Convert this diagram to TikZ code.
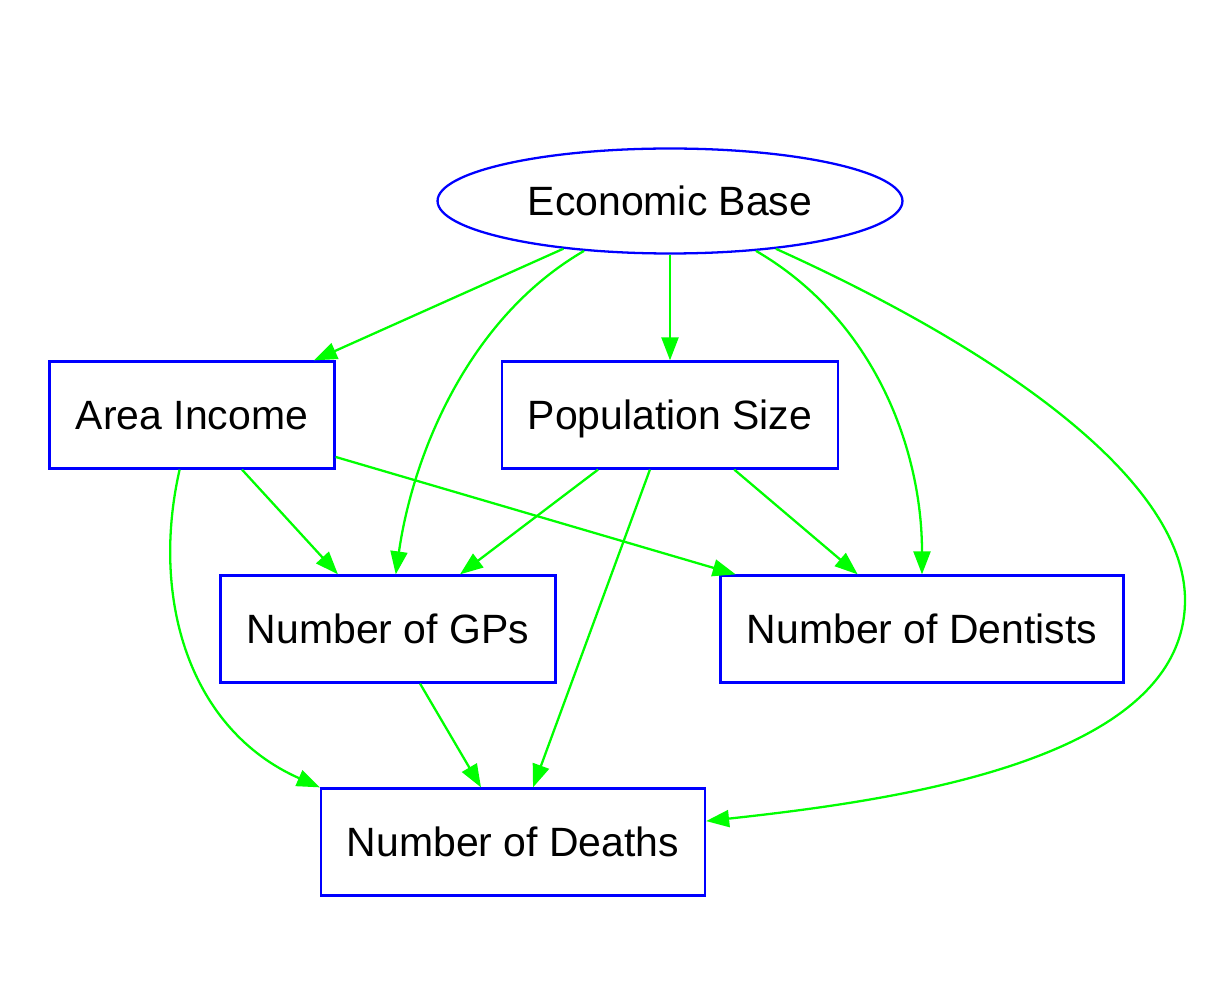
\documentclass[tikz,border=0pt]{standalone}
\usepackage{fontspec}
\setmainfont{Liberation Sans}
\usetikzlibrary{shapes.geometric,arrows.meta}
\definecolor{edgegreen}{RGB}{0,255,0}
\definecolor{nodeblue}{RGB}{0,0,255}
\begin{document}
\begin{tikzpicture}[x=0.02cm,y=-0.02cm,
  box/.style={draw=nodeblue,line width=1.3pt,rectangle,inner sep=0pt,minimum height=2.14cm,text height=16.7pt,text depth=0pt,font=\fontsize{23.3}{28}\selectfont},
  oval/.style={draw=nodeblue,line width=1.3pt,ellipse,inner sep=0pt,minimum width=9.3cm,minimum height=2.1cm,text height=16.7pt,text depth=0pt,font=\fontsize{23.3}{28}\selectfont},
  edge/.style={draw=edgegreen,line width=1.3pt,-{Triangle[length=0.46cm,width=0.34cm]}}]
\useasboundingbox (0,0) rectangle (1230,996);
\node[oval] (eb) at (670,201) {Economic Base};
\node[box,minimum width=5.7cm] (ai) at (192,415) {Area Income};
\node[box,minimum width=6.72cm] (pop) at (670,415) {Population Size};
\node[box,minimum width=6.7cm] (gp) at (388,629) {Number of GPs};
\node[box,minimum width=8.06cm] (den) at (922,629) {Number of Dentists};
\node[box,minimum width=7.68cm] (dea) at (513,842) {Number of Deaths};
\draw[edge] (eb) -- (ai);
\draw[edge] (eb) -- (pop);
\draw[edge] (eb) .. controls (465,320) and (412,460) .. (gp);
\draw[edge] (eb) .. controls (875,320) and (922,450) .. (den);
\draw[edge] (eb) .. controls (1000,350) and (1185,480) .. (1185,600) .. controls (1185,760) and (900,800) .. (dea);
\draw[edge] (ai) -- (gp);
\draw[edge] (ai) -- (den);
\draw[edge] (ai) .. controls (150,600) and (190,730) .. (dea.north west);
\draw[edge] (pop) -- (gp);
\draw[edge] (pop) -- (den);
\draw[edge] (pop) -- (dea);
\draw[edge] (gp) -- (dea);
\end{tikzpicture}
\end{document}
